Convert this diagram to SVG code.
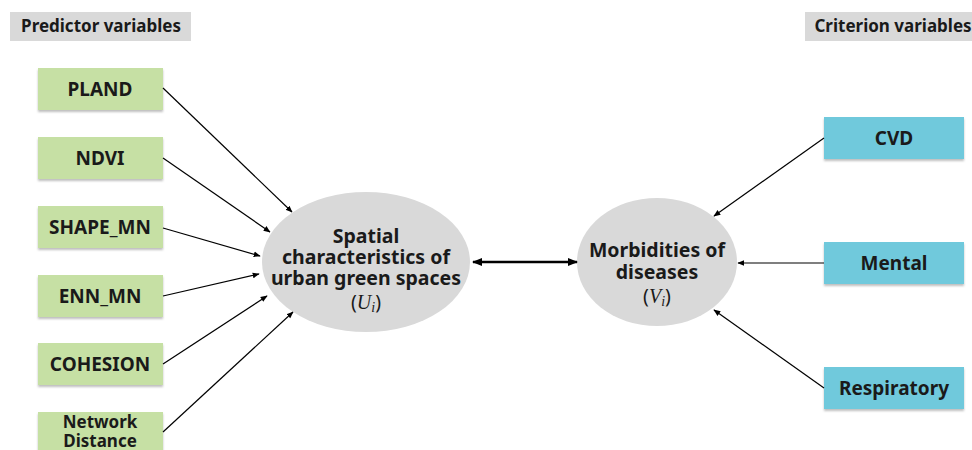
<svg xmlns="http://www.w3.org/2000/svg" width="972" height="450" viewBox="0 0 972 450">
<defs>
<marker id="ah" viewBox="0 0 10 10" refX="9" refY="5" markerWidth="7" markerHeight="7" orient="auto-start-reverse" markerUnits="userSpaceOnUse">
<path d="M0,1 L10,5 L0,9 z" fill="#000"/>
</marker>
<marker id="ahb" viewBox="0 0 10 10" refX="9" refY="5" markerWidth="10" markerHeight="10" orient="auto-start-reverse" markerUnits="userSpaceOnUse">
<path d="M0,1 L10,5 L0,9 z" fill="#000"/>
</marker>
<filter id="sh" x="-5%" y="-5%" width="110%" height="125%">
<feDropShadow dx="0" dy="2" stdDeviation="1" flood-color="#000" flood-opacity="0.25"/>
</filter>
</defs>
<style>
.t{font-family:"Noto Sans","Liberation Sans",sans-serif;font-weight:bold;fill:#1a1a1a;text-anchor:middle}
.lbl{font-size:17px}
.box{font-size:19px}
.box2{font-size:17px}
.ell{font-size:19.5px}
.m{font-family:"Liberation Serif",serif;font-style:italic;font-weight:normal;fill:#1a1a1a;font-size:20px}
.g{fill:#c6e0a4;filter:url(#sh)}
.b{fill:#70c9dc;filter:url(#sh)}
.e{fill:#d9d9d9}
.hdr{fill:#d9d9d9}
.c{stroke:#000;stroke-width:1.2;fill:none;marker-end:url(#ah)}
</style>
<rect width="972" height="450" fill="#fff"/>
<g id="hdr-predictor"><rect class="hdr" x="10" y="12" width="181" height="29"/><text class="t lbl" x="101" y="32">Predictor variables</text></g>
<g id="hdr-criterion"><rect class="hdr" x="805" y="12" width="167" height="29"/><text class="t lbl" x="893" y="32">Criterion variables</text></g>
<g id="n-pland"><rect class="g" x="38" y="68" width="125" height="42"/><text class="t box" x="100" y="96">PLAND</text></g>
<g id="n-ndvi"><rect class="g" x="38" y="137" width="125" height="42"/><text class="t box" x="100" y="165">NDVI</text></g>
<g id="n-shape"><rect class="g" x="38" y="206" width="125" height="42"/><text class="t box" x="100" y="234">SHAPE_MN</text></g>
<g id="n-enn"><rect class="g" x="38" y="275" width="125" height="42"/><text class="t box" x="100" y="303">ENN_MN</text></g>
<g id="n-cohesion"><rect class="g" x="38" y="343" width="125" height="42"/><text class="t box" x="100" y="371">COHESION</text></g>
<g id="n-network"><rect class="g" x="38" y="412" width="125" height="42"/><text class="t box2" x="100" y="428">Network</text><text class="t box2" x="100" y="447">Distance</text></g>
<g id="n-spatial"><ellipse class="e" cx="366" cy="262" rx="104" ry="70"/>
<text class="t ell" x="366" y="243">Spatial</text>
<text class="t ell" x="366" y="264">characteristics of</text>
<text class="t ell" x="366" y="285">urban green spaces</text>
<text class="t ell" x="366" y="309" style="font-weight:normal">(<tspan class="m">U</tspan><tspan class="m" style="font-size:14px" dy="3">i</tspan><tspan dy="-3">)</tspan></text>
</g>
<g id="n-morb"><ellipse class="e" cx="657" cy="262" rx="80" ry="64"/>
<text class="t ell" x="657" y="257">Morbidities of</text>
<text class="t ell" x="657" y="279">diseases</text>
<text class="t ell" x="657" y="303" style="font-weight:normal">(<tspan class="m">V</tspan><tspan class="m" style="font-size:14px" dy="3">i</tspan><tspan dy="-3">)</tspan></text>
</g>
<g id="n-cvd"><rect class="b" x="824" y="117" width="140" height="42"/><text class="t box" x="894" y="145">CVD</text></g>
<g id="n-mental"><rect class="b" x="824" y="242" width="140" height="42"/><text class="t box" x="894" y="270">Mental</text></g>
<g id="n-resp"><rect class="b" x="824" y="367" width="140" height="42"/><text class="t box" x="894" y="395">Respiratory</text></g>
<g id="connectors">
<line class="c" x1="163" y1="88" x2="292" y2="212"/>
<line class="c" x1="163" y1="158" x2="270" y2="232"/>
<line class="c" x1="163" y1="228" x2="260" y2="256"/>
<line class="c" x1="163" y1="296" x2="259" y2="274"/>
<line class="c" x1="163" y1="364" x2="267" y2="296"/>
<line class="c" x1="163" y1="432" x2="293" y2="312"/>
<line x1="473" y1="262" x2="577" y2="262" stroke="#000" stroke-width="2.5" marker-start="url(#ahb)" marker-end="url(#ahb)"/>
<line class="c" x1="824" y1="138" x2="714" y2="216"/>
<line class="c" x1="824" y1="263" x2="738" y2="263"/>
<line class="c" x1="824" y1="388" x2="714" y2="310"/>
</g>
</svg>
